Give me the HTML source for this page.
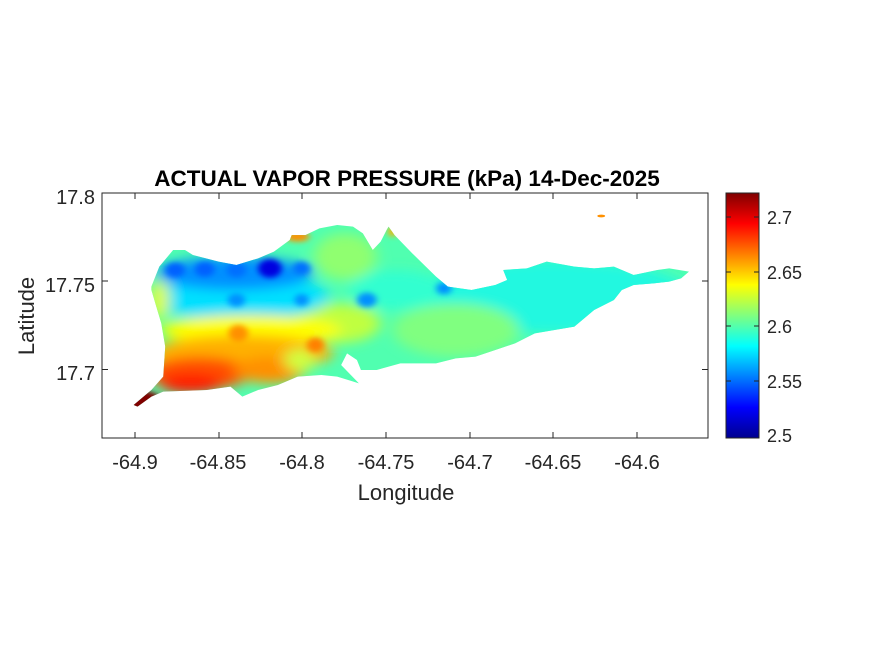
<!DOCTYPE html>
<html><head><meta charset="utf-8"><style>
body{margin:0;background:#fff;}
svg{display:block;font-family:"Liberation Sans",Arial,sans-serif;}
</style></head><body>
<svg width="875" height="656" viewBox="0 0 875 656" xmlns="http://www.w3.org/2000/svg">
<defs>
<clipPath id="isl">
<polygon points="85,645 130,600 160,560 165,470 155,400 130,300 130,290 150,230 185,180 215,180 235,195 300,215 345,225 400,205 440,185 480,150 485,135 520,135 555,115 600,105 640,110 665,130 690,180 710,155 725,120 730,110 745,135 790,190 850,260 880,290 940,300 1000,285 1030,270 1020,240 1080,235 1130,215 1200,230 1250,235 1300,230 1350,255 1410,240 1440,235 1490,245 1470,265 1440,275 1400,280 1350,285 1320,300 1300,330 1250,360 1200,410 1150,420 1100,430 1050,460 1000,480 950,500 900,505 850,520 760,520 700,540 660,540 650,510 625,490 610,525 655,580 600,560 560,555 500,560 450,585 400,600 360,620 330,590 270,600 160,605 130,620 95,650"/>
</clipPath>
<filter id="bl" x="-50%" y="-50%" width="200%" height="200%"><feGaussianBlur stdDeviation="18"/></filter>
<filter id="bl2" x="-50%" y="-50%" width="200%" height="200%"><feGaussianBlur stdDeviation="8"/></filter>
<linearGradient id="jet" x1="0" y1="1" x2="0" y2="0">
<stop offset="0" stop-color="#00008f"/>
<stop offset="0.125" stop-color="#0000ff"/>
<stop offset="0.375" stop-color="#00ffff"/>
<stop offset="0.625" stop-color="#ffff00"/>
<stop offset="0.875" stop-color="#ff0000"/>
<stop offset="1" stop-color="#800000"/>
</linearGradient>
</defs>

<text x="407" y="186" font-size="22.5" font-weight="bold" text-anchor="middle" fill="#000">ACTUAL VAPOR PRESSURE (kPa) 14-Dec-2025</text>

<g transform="translate(100,190) scale(0.3953,0.3333)">
<g clip-path="url(#isl)">
<rect x="0" y="0" width="1550" height="750" fill="#50ffb0"/>
<g filter="url(#bl)">
<ellipse cx="1150" cy="320" rx="350" ry="110" fill="#20f8e0"/>
<ellipse cx="900" cy="420" rx="160" ry="80" fill="#80ff80"/>
<ellipse cx="750" cy="300" rx="120" ry="60" fill="#30ffd0"/>
<ellipse cx="620" cy="200" rx="80" ry="70" fill="#90ff70"/>
<ellipse cx="600" cy="400" rx="110" ry="60" fill="#c0ff40"/>
<ellipse cx="350" cy="320" rx="230" ry="70" fill="#00e0ff"/>
<ellipse cx="340" cy="250" rx="200" ry="50" fill="#0090ff"/>
<ellipse cx="380" cy="420" rx="230" ry="45" fill="#ffff00"/>
<ellipse cx="360" cy="490" rx="230" ry="55" fill="#ffb000"/>
<ellipse cx="250" cy="550" rx="130" ry="50" fill="#ff5000"/>
<ellipse cx="230" cy="580" rx="80" ry="30" fill="#ff1a00"/>
<ellipse cx="430" cy="540" rx="90" ry="40" fill="#ff9000"/>
<ellipse cx="150" cy="330" rx="25" ry="60" fill="#e0ff20"/>
<ellipse cx="505" cy="510" rx="40" ry="35" fill="#d0ff40"/>
</g>
<g filter="url(#bl2)">
<ellipse cx="190" cy="240" rx="25" ry="22" fill="#0060ff"/>
<ellipse cx="265" cy="238" rx="25" ry="22" fill="#0060ff"/>
<ellipse cx="345" cy="240" rx="25" ry="22" fill="#0070ff"/>
<ellipse cx="430" cy="235" rx="30" ry="28" fill="#0000e0"/>
<ellipse cx="510" cy="235" rx="22" ry="20" fill="#0070ff"/>
<ellipse cx="345" cy="330" rx="22" ry="20" fill="#0090ff"/>
<ellipse cx="510" cy="330" rx="18" ry="18" fill="#0090ff"/>
<ellipse cx="675" cy="330" rx="25" ry="22" fill="#0090ff"/>
<ellipse cx="870" cy="295" rx="20" ry="18" fill="#0090ff"/>
<ellipse cx="500" cy="140" rx="30" ry="15" fill="#ff9000"/>
<ellipse cx="350" cy="430" rx="25" ry="25" fill="#ff9000"/>
<ellipse cx="545" cy="465" rx="22" ry="22" fill="#ff8000"/>
<ellipse cx="740" cy="125" rx="12" ry="15" fill="#ffb000"/>
<ellipse cx="100" cy="640" rx="60" ry="40" fill="#800000"/>
</g>
</g>
<ellipse cx="1268" cy="78" rx="10" ry="4" fill="#ff9000"/>
</g>

<!-- axes -->
<rect x="102" y="193" width="606" height="245" fill="none" stroke="#262626" stroke-width="1"/>
<g stroke="#262626" stroke-width="1">
<line x1="135" y1="438" x2="135" y2="432"/><line x1="219" y1="438" x2="219" y2="432"/>
<line x1="302" y1="438" x2="302" y2="432"/><line x1="386" y1="438" x2="386" y2="432"/>
<line x1="470" y1="438" x2="470" y2="432"/><line x1="553" y1="438" x2="553" y2="432"/>
<line x1="637" y1="438" x2="637" y2="432"/>
<line x1="135" y1="193" x2="135" y2="199"/><line x1="219" y1="193" x2="219" y2="199"/>
<line x1="302" y1="193" x2="302" y2="199"/><line x1="386" y1="193" x2="386" y2="199"/>
<line x1="470" y1="193" x2="470" y2="199"/><line x1="553" y1="193" x2="553" y2="199"/>
<line x1="637" y1="193" x2="637" y2="199"/>
<line x1="102" y1="281" x2="108" y2="281"/><line x1="102" y1="369.5" x2="108" y2="369.5"/>
<line x1="708" y1="281" x2="702" y2="281"/><line x1="708" y1="369.5" x2="702" y2="369.5"/>
</g>
<g font-size="20" fill="#262626" text-anchor="middle">
<text x="135" y="469">-64.9</text><text x="218" y="469">-64.85</text>
<text x="302" y="469">-64.8</text><text x="386" y="469">-64.75</text>
<text x="470" y="469">-64.7</text><text x="553" y="469">-64.65</text>
<text x="637" y="469">-64.6</text>
</g>
<g font-size="20" fill="#262626" text-anchor="end">
<text x="95" y="204">17.8</text><text x="95" y="292">17.75</text><text x="95" y="380">17.7</text>
</g>
<text x="406" y="500" font-size="22" fill="#262626" text-anchor="middle">Longitude</text>
<text transform="translate(34,316) rotate(-90)" font-size="22" fill="#262626" text-anchor="middle">Latitude</text>

<!-- colorbar -->
<rect x="726" y="193" width="33" height="245" fill="url(#jet)" stroke="#262626" stroke-width="1"/>
<g stroke="#262626" stroke-width="1">
<line x1="759" y1="217" x2="754" y2="217"/><line x1="759" y1="272" x2="754" y2="272"/>
<line x1="759" y1="326" x2="754" y2="326"/><line x1="759" y1="381" x2="754" y2="381"/>
<line x1="726" y1="217" x2="731" y2="217"/><line x1="726" y1="272" x2="731" y2="272"/>
<line x1="726" y1="326" x2="731" y2="326"/><line x1="726" y1="381" x2="731" y2="381"/>
</g>
<g font-size="18" fill="#262626">
<text x="767" y="224">2.7</text><text x="767" y="279">2.65</text><text x="767" y="333">2.6</text>
<text x="767" y="388">2.55</text><text x="767" y="442">2.5</text>
</g>
</svg>
</body></html>
